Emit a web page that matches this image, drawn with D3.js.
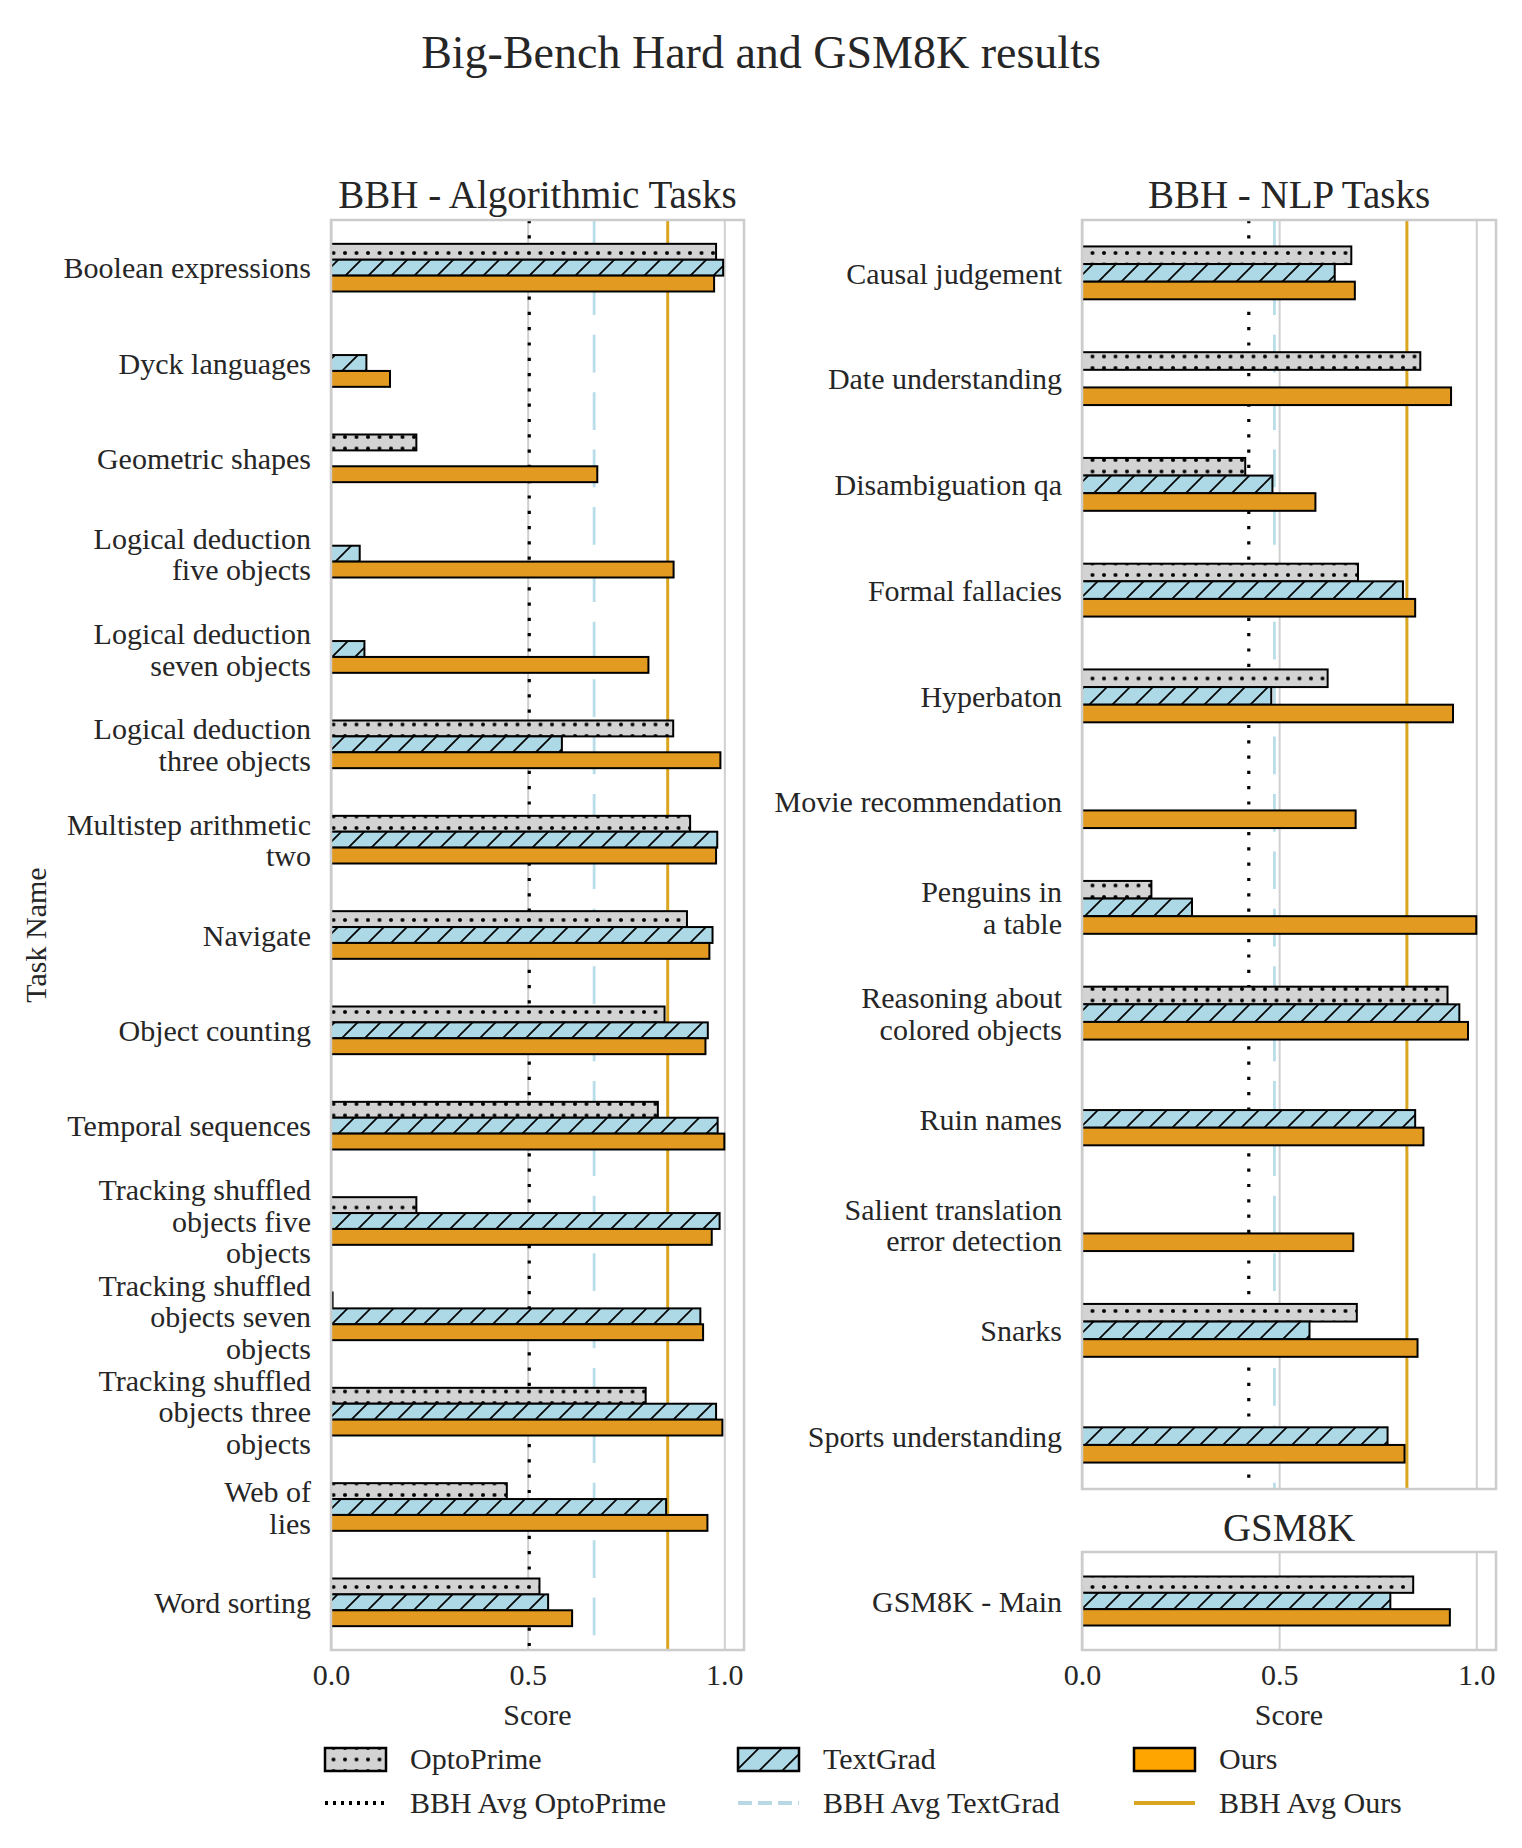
<!DOCTYPE html>
<html>
<head>
<meta charset="utf-8">
<script src="https://cdn.jsdelivr.net/npm/d3@7"></script>
<style>
  body { margin: 0; background: #fff; }
  svg text { font-family: "Liberation Serif", "Times New Roman", serif; fill: #262626; }
</style>
</head>
<body>
<svg id="chart" width="1522" height="1848"></svg>
<script>
// ---- data ----
const methods = ["OptoPrime", "TextGrad", "Ours"];
const avgLabels = ["BBH Avg OptoPrime", "BBH Avg TextGrad", "BBH Avg Ours"];
const xTicks = [0, 0.5, 1.0];

const algoTasks = [
  "Boolean expressions", "Dyck languages", "Geometric shapes",
  "Logical deduction\nfive objects", "Logical deduction\nseven objects", "Logical deduction\nthree objects",
  "Multistep arithmetic\ntwo", "Navigate", "Object counting", "Temporal sequences",
  "Tracking shuffled\nobjects five\nobjects", "Tracking shuffled\nobjects seven\nobjects",
  "Tracking shuffled\nobjects three\nobjects", "Web of\nlies", "Word sorting"
];
const algoOpto     = [0.979, null, 0.217, null, null, 0.870, 0.913, 0.905, 0.848, 0.831, 0.217, 0.004, 0.800, 0.447, 0.530];
const algoTextGrad = [0.997, 0.090, null, 0.073, 0.085, 0.587, 0.982, 0.970, 0.958, 0.983, 0.988, 0.939, 0.979, 0.852, 0.552];
const algoOurs     = [0.974, 0.150, 0.677, 0.871, 0.807, 0.990, 0.979, 0.962, 0.952, 1.000, 0.968, 0.946, 0.995, 0.957, 0.613];
const algoAvg      = [0.504, 0.669, 0.856];

const nlpTasks = [
  "Causal judgement", "Date understanding", "Disambiguation qa", "Formal fallacies",
  "Hyperbaton", "Movie recommendation", "Penguins in\na table", "Reasoning about\ncolored objects",
  "Ruin names", "Salient translation\nerror detection", "Snarks", "Sports understanding"
];
const nlpOpto     = [0.683, 0.858, 0.414, 0.700, 0.623, null, 0.176, 0.927, null, null, 0.697, null];
const nlpTextGrad = [0.641, null, 0.483, 0.814, 0.480, null, 0.279, 0.957, 0.845, null, 0.577, 0.775];
const nlpOurs     = [0.692, 0.936, 0.592, 0.845, 0.941, 0.694, 1.000, 0.979, 0.866, 0.688, 0.851, 0.818];
const nlpAvg      = [0.423, 0.488, 0.824];

const gsmTasks    = ["GSM8K - Main"];
const gsmOpto     = [0.840];
const gsmTextGrad = [0.782];
const gsmOurs     = [0.933];

// ---- drawing ----
const svg = d3.select("#chart");
const FS = 30;
const LINE = 31.5;
const barFill = ["url(#dots)", "url(#slash)", "#e29a20"];
const lineStyle = [
  { color: "#000", dash: "3.2,12.1", width: 3.2 },
  { color: "#add8e6", dash: "37.7,19.7", width: 2.8, opacity: 0.85 },
  { color: "#daa520", dash: null, width: 3 }
];

const defs = svg.append("defs");
const dots = defs.append("pattern").attr("id", "dots")
  .attr("patternUnits", "userSpaceOnUse").attr("width", 11.5).attr("height", 11.5)
  .attr("x", -5.75).attr("y", -5.75);
dots.append("rect").attr("width", 11.5).attr("height", 11.5).attr("fill", "#d3d3d3");
dots.append("circle").attr("cx", 5.75).attr("cy", 5.75).attr("r", 2).attr("fill", "#000");

const slash = defs.append("pattern").attr("id", "slash")
  .attr("patternUnits", "userSpaceOnUse").attr("width", 23).attr("height", 23);
slash.append("rect").attr("width", 23).attr("height", 23).attr("fill", "#add8e6");
slash.append("path").attr("d", "M0,23 L23,0 M-6,6 L6,-6 M17,29 L29,17")
  .attr("stroke", "#000").attr("stroke-width", 1.7);

svg.append("text").attr("x", 761).attr("y", 68).attr("text-anchor", "middle")
  .style("font-size", "46px").text("Big-Bench Hard and GSM8K results");

function drawPanel(p) {
  const x = d3.scaleLinear().domain([0, 1.05]).range([p.left, p.right]);
  const y = d3.scaleBand().domain(p.tasks).range([p.top, p.bottom]);
  const g = svg.append("g");
  const h = p.bottom - p.top;

  // gridlines
  g.append("g").attr("transform", `translate(0,${p.bottom})`)
    .call(d3.axisBottom(x).tickValues(xTicks).tickSize(-h).tickFormat(""))
    .call(a => a.select(".domain").remove())
    .call(a => a.selectAll("line").attr("stroke", "#d0d0d0").attr("stroke-width", 2));

  // average lines
  if (p.avg) {
    p.avg.forEach((v, i) => {
      const s = lineStyle[i];
      g.append("line").attr("x1", x(v)).attr("x2", x(v)).attr("y1", p.top).attr("y2", p.bottom)
        .attr("stroke", s.color).attr("stroke-width", s.width)
        .attr("stroke-dasharray", s.dash).attr("opacity", s.opacity || 1);
    });
  }

  // bars
  const bh = y.bandwidth() / 6;
  [p.opto, p.tg, p.ours].forEach((vals, k) => {
    g.append("g").selectAll("rect")
      .data(p.tasks.map((t, i) => ({ t, v: vals[i] })).filter(d => d.v != null))
      .join("rect")
      .attr("x", x(0))
      .attr("y", d => y(d.t) + y.bandwidth() / 2 + (k - 1.5) * bh)
      .attr("width", d => x(d.v) - x(0))
      .attr("height", bh)
      .attr("fill", barFill[k])
      .attr("stroke", "#000").attr("stroke-width", 2);
  });

  // frame
  g.append("rect").attr("x", p.left).attr("y", p.top)
    .attr("width", p.right - p.left).attr("height", h)
    .attr("fill", "none").attr("stroke", "#cccccc").attr("stroke-width", 2.5);

  // task labels
  const ya = g.append("g").attr("transform", `translate(${p.left},0)`)
    .call(d3.axisLeft(y).tickSize(0).tickPadding(20));
  ya.select(".domain").remove();
  ya.selectAll("text").each(function (d) {
    const lines = d.split("\n");
    const t = d3.select(this).text("").attr("dy", null).attr("fill", "#262626")
      .style("font-size", FS + "px").style("font-family", "Liberation Serif, serif");
    lines.forEach((ln, i) => {
      t.append("tspan").attr("x", -20)
        .attr("y", (i - (lines.length - 1) / 2) * LINE + 0.36 * FS)
        .text(ln);
    });
  });

  // title
  g.append("text").attr("x", (p.left + p.right) / 2).attr("y", p.titleY)
    .attr("text-anchor", "middle").style("font-size", "39px").text(p.title);

  if (p.ticks) {
    const xa = g.append("g").attr("transform", `translate(0,${p.bottom})`)
      .call(d3.axisBottom(x).tickValues(xTicks).tickSize(0).tickFormat(d3.format(".1f")));
    xa.select(".domain").remove();
    xa.selectAll("text").attr("y", 35).attr("dy", null).attr("fill", "#262626")
      .style("font-size", FS + "px").style("font-family", "Liberation Serif, serif");
    g.append("text").attr("x", (p.left + p.right) / 2).attr("y", p.bottom + 75)
      .attr("text-anchor", "middle").style("font-size", FS + "px").text("Score");
  }
}

drawPanel({ tasks: algoTasks, opto: algoOpto, tg: algoTextGrad, ours: algoOurs, avg: algoAvg,
  left: 331, right: 744, top: 220, bottom: 1650, title: "BBH - Algorithmic Tasks", titleY: 208, ticks: true });
drawPanel({ tasks: nlpTasks, opto: nlpOpto, tg: nlpTextGrad, ours: nlpOurs, avg: nlpAvg,
  left: 1082, right: 1496, top: 220, bottom: 1489, title: "BBH - NLP Tasks", titleY: 208, ticks: false });
drawPanel({ tasks: gsmTasks, opto: gsmOpto, tg: gsmTextGrad, ours: gsmOurs, avg: null,
  left: 1082, right: 1496, top: 1552, bottom: 1650, title: "GSM8K", titleY: 1541, ticks: true });

svg.append("text").attr("transform", "translate(46,935) rotate(-90)")
  .attr("text-anchor", "middle").style("font-size", FS + "px").text("Task Name");

// legend
const legX = [325, 738, 1134];
const patchFill = ["url(#dots)", "url(#slash)", "#ffa500"];
const legendLine = [
  { color: "#000", dash: "3,5", width: 4 },
  { color: "#b8d8e4", dash: "14,6", width: 4 },
  { color: "#daa520", dash: null, width: 4 }
];
methods.forEach((m, i) => {
  svg.append("rect").attr("x", legX[i]).attr("y", 1748).attr("width", 61).attr("height", 23)
    .attr("fill", patchFill[i]).attr("stroke", "#000").attr("stroke-width", 2.5);
  svg.append("text").attr("x", legX[i] + 85).attr("y", 1769).style("font-size", FS + "px").text(m);
  const s = legendLine[i];
  svg.append("line").attr("x1", legX[i]).attr("x2", legX[i] + 61).attr("y1", 1803).attr("y2", 1803)
    .attr("stroke", s.color).attr("stroke-width", s.width).attr("stroke-dasharray", s.dash);
  svg.append("text").attr("x", legX[i] + 85).attr("y", 1813).style("font-size", FS + "px").text(avgLabels[i]);
});
</script>
</body>
</html>
